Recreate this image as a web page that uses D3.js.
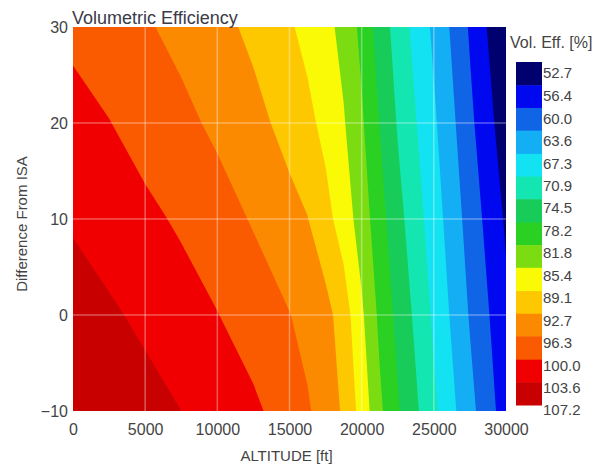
<!DOCTYPE html>
<html><head><meta charset="utf-8">
<script src="https://cdn.jsdelivr.net/npm/d3@7"></script>
<style>
body{margin:0;background:#fff}
svg{display:block}
text{font-family:"Liberation Sans",Arial,Helvetica,sans-serif}
</style>
</head><body>
<svg id="chart" width="602" height="466"></svg>
<script>
// ---- data ----
const altitudes = [0,2500,5000,7500,10000,12500,15000,16250,17500,18750,20000,21250,22500,25000,27500,30000];
const isaDiffs = [-10,0,10,20,30];
// volumetric efficiency [%], one row per isaDiffs entry, one value per altitude
const veIsaM10 = [107.2,106.0,104.8,103.6,102.0,100.7,98.2,96.7,94.7,92.2,87.7,82.5,78.6,71.6,64.7,58.2];
const veIsa0   = [105.2,104.1,102.9,101.5,100.1,98.2,96.4,95.2,93.9,91.0,86.0,81.0,77.2,70.3,63.3,57.2];
const veIsa10  = [103.2,102.0,100.8,99.5,97.8,96.0,93.8,92.8,90.3,87.4,83.7,79.6,75.7,69.1,62.1,55.9];
const veIsa20  = [101.2,100.1,98.6,97.2,95.6,93.8,91.5,90.0,88.1,85.7,82.3,78.1,74.2,67.9,60.8,54.3];
const veIsa30  = [99.2,98.0,96.7,95.3,93.8,91.9,89.5,88.1,86.5,84.3,80.9,76.5,73.0,66.6,59.6,52.7];
const levels = [52.7,56.4,60.0,63.6,67.3,70.9,74.5,78.2,81.8,85.4,89.1,92.7,96.3,100.0,103.6,107.2];
const levelLabels = ["52.7","56.4","60.0","63.6","67.3","70.9","74.5","78.2","81.8","85.4","89.1","92.7","96.3","100.0","103.6","107.2"];
const bandColors = ["#00006e","#0008f0","#1064e6","#14aef4","#12e2f2","#14e6b2","#18cc5a","#2ad022","#7cdc12","#fbfa06","#fdc800","#fc8a00","#fa5a00","#f00000","#c80000"];
const xTicks = [0,5000,10000,15000,20000,25000,30000];
const yTicks = [-10,0,10,20,30];
const xGrid = [5000,10000,15000,20000,25000];
const yGrid = [0,10,20];

// ---- layout ----
const L = 73, R = 506, T = 27, B = 411;
const svg = d3.select("#chart");
const x = d3.scaleLinear().domain([0,30000]).range([L,R]);
const y = d3.scaleLinear().domain([-10,30]).range([B,T]);

const rows = [veIsaM10, veIsa0, veIsa10, veIsa20, veIsa30];
const nx = altitudes.length, ny = isaDiffs.length;
const flat = [].concat(...rows);
const idxToAlt = d3.scaleLinear().domain(d3.range(nx)).range(altitudes);
const idxToIsa = d3.scaleLinear().domain(d3.range(ny)).range(isaDiffs);
const clamp = (v, lo, hi) => Math.max(lo, Math.min(hi, v));

const proj = d3.geoTransform({
  point(cx, cy) {
    const ix = clamp(cx - 0.5, 0, nx - 1), iy = clamp(cy - 0.5, 0, ny - 1);
    this.stream.point(x(idxToAlt(ix)), y(idxToIsa(iy)));
  }
});
const path = d3.geoPath(proj);

svg.append("clipPath").attr("id","clip").append("rect")
  .attr("x",L).attr("y",T).attr("width",R-L).attr("height",B-T);

const g = svg.append("g").attr("clip-path","url(#clip)");
g.append("rect").attr("x",L).attr("y",T).attr("width",R-L).attr("height",B-T).attr("fill",bandColors[0]);

const contours = d3.contours().size([nx, ny]).thresholds(levels.slice(0, 15))(flat);
g.selectAll("path.band").data(contours).join("path")
  .attr("class","band")
  .attr("d", path)
  .attr("fill", (d, i) => bandColors[i]);

// grid
g.selectAll("line.gx").data(xGrid).join("line")
  .attr("x1", d => x(d)).attr("x2", d => x(d)).attr("y1", T).attr("y2", B)
  .attr("stroke","#fff").attr("stroke-opacity",0.35).attr("stroke-width",1.5);
g.selectAll("line.gy").data(yGrid).join("line")
  .attr("y1", d => y(d)).attr("y2", d => y(d)).attr("x1", L).attr("x2", R)
  .attr("stroke","#fff").attr("stroke-opacity",0.35).attr("stroke-width",1.5);

// axes (labels only)
const xAxis = d3.axisBottom(x).tickValues(xTicks).tickSize(0).tickPadding(0).tickFormat(d3.format("d"));
const xa = svg.append("g").attr("transform",`translate(0,${B})`).call(xAxis);
xa.select(".domain").remove();
xa.selectAll("text").attr("y",24).attr("dy",null).attr("font-size",16).attr("fill","#444").attr("font-family",null);

const yAxis = d3.axisLeft(y).tickValues(yTicks).tickSize(0).tickPadding(0).tickFormat(d3.format("d"));
const ya = svg.append("g").attr("transform",`translate(${L-5},0)`).call(yAxis);
ya.select(".domain").remove();
ya.selectAll("text").attr("x",0).attr("dy","0.36em").attr("font-size",16).attr("fill","#444").attr("font-family",null);

svg.append("text").attr("x",(L+R)/2 - 3).attr("y",461).attr("text-anchor","middle")
  .attr("font-size",15).attr("fill","#444").text("ALTITUDE [ft]");
svg.append("text").attr("transform",`translate(27,${(T+B)/2 + 5}) rotate(-90)`).attr("text-anchor","middle")
  .attr("font-size",15).attr("fill","#444").text("Difference From ISA");
svg.append("text").attr("x",72).attr("y",24).attr("font-size",18).attr("fill","#3a3a48").text("Volumetric Efficiency");

// colorbar
const cbX = 516, cbW = 26;
const cbY = d3.scaleLinear().domain([levels[0], levels[15]]).range([62, 405]);
const cbLab = d3.scaleLinear().domain([levels[0], levels[15]]).range([73, 410]);
svg.selectAll("rect.cb").data(bandColors).join("rect")
  .attr("class","cb")
  .attr("x",cbX).attr("width",cbW)
  .attr("y",(d,i) => cbY(levels[i]))
  .attr("height",(d,i) => cbY(levels[i+1]) - cbY(levels[i]) + 0.5)
  .attr("fill", d => d);
svg.selectAll("text.cbl").data(levels).join("text")
  .attr("class","cbl")
  .attr("x",cbX + cbW + 1).attr("y", d => cbLab(d)).attr("dy","0.36em")
  .attr("font-size",15).attr("fill","#444")
  .text((d,i) => levelLabels[i]);
svg.append("text").attr("x",510).attr("y",48).attr("font-size",16).attr("fill","#444").text("Vol. Eff. [%]");
</script>
</body></html>
